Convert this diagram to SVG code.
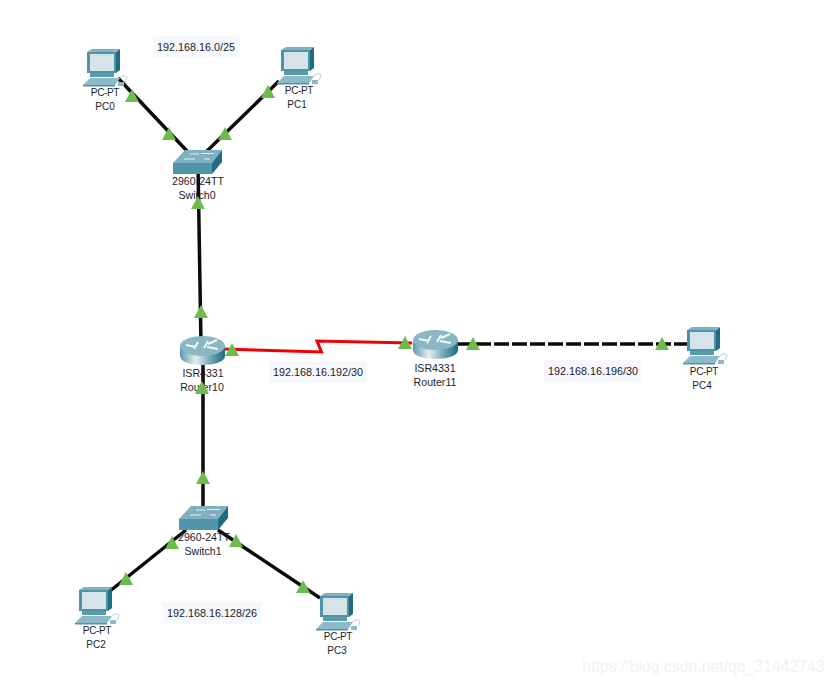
<svg xmlns="http://www.w3.org/2000/svg" xmlns:xlink="http://www.w3.org/1999/xlink" width="834" height="685" viewBox="0 0 834 685">
<style>
text{font-family:"Liberation Sans",Arial,sans-serif;font-size:10.600px;fill:#1c1c2a;text-anchor:middle}
.pt{font-size:10px;letter-spacing:-.35px}
.nm{font-size:10px}
.ip{font-size:10.800px}
.bg{fill:#f7f8fe}
.cable{fill:none;stroke:#0a0a0a;stroke-width:3.500}
.tri{fill:#6cbb4c}
</style>
<defs>
<linearGradient id="rt" x1="0" x2="1" y1="0" y2="0"><stop offset="0" stop-color="#5f98a8"/><stop offset=".35" stop-color="#e4eef1"/><stop offset=".7" stop-color="#6ea3b2"/><stop offset="1" stop-color="#1d6a80"/></linearGradient>
<polygon id="t" class="tri" points="0,-7 7,6 -7,6"/>
<g id="pc">
<polygon points="0,2 28,2 33,-1 5,-1" fill="#7fb0c0"/>
<rect x="0" y="2" width="29" height="21" fill="#4e93a8"/>
<polygon points="29,2 33,-1 33,20 29,23" fill="#1f6b82"/>
<rect x="3" y="4" width="24" height="17" fill="#d6e4ea"/>
<rect x="3" y="23" width="24" height="4" fill="#5a9aae"/>
<polygon points="-4,35 3,28 33,28 28,35" fill="#8dbac8"/>
<rect x="-4" y="35" width="32" height="1.500" fill="#4e93a8"/>
<rect x="31" y="32" width="6" height="4" fill="#8dbac8"/>
<path d="M32,29 C34,25 40,25 40,28 L38,32" fill="none" stroke="#b8ccd4"/>
</g>
<g id="sw">
<polygon points="0,13 12,0 49,0 39,13" fill="#80b0c0"/>
<polygon points="39,13 49,0 49,12 39,24" fill="#1f6b82"/>
<rect x="0" y="13" width="39" height="11" fill="#5095aa"/>
<path d="M11,9 H22 M17,4 H26 M28,3.500 H41 M31,9 H37" stroke="#e8f0f3" fill="none"/>
</g>
<g id="rtr">
<path d="M0,10 V20 C0,32 45,32 45,20 V10 Z" fill="url(#rt)"/>
<ellipse cx="22.500" cy="10" rx="22.500" ry="10" fill="#8bb6c4"/>
<path d="M6,9 L16,11 M18,6 L14,13 M28,5 L24,12 M27,11 L38,13 M28,8 L37,4" stroke="#f2f7f8" stroke-width="2" fill="none"/>
</g>
</defs>
<rect width="834" height="685" fill="#fff"/>
<g id="connectors">
<path class="cable" d="M118,78 L187,151"/>
<path class="cable" d="M279,81 L207,151"/>
<path class="cable" d="M198,165 L201,345"/>
<path class="cable" d="M203,352 V515"/>
<path class="cable" d="M186,530 L110,591"/>
<path class="cable" d="M218,530 L320,598"/>
<path class="cable" d="M458,344 H688" stroke-dasharray="15 3"/>
<path d="M222,349 L321.500,352 L317,341 L412,343" fill="none" stroke="#f00000" stroke-width="3"/>
</g>
<g id="PC0"><use xlink:href="#pc" href="#pc" x="87" y="50"/><text class="pt" x="105" y="96">PC-PT</text><text class="nm" x="105" y="110">PC0</text></g>
<g id="PC1"><use xlink:href="#pc" href="#pc" x="281" y="48"/><text class="pt" x="299" y="94">PC-PT</text><text class="nm" x="297" y="108">PC1</text></g>
<g id="PC2"><use xlink:href="#pc" href="#pc" x="79" y="588"/><text class="pt" x="97" y="634">PC-PT</text><text class="nm" x="96" y="648">PC2</text></g>
<g id="PC3"><use xlink:href="#pc" href="#pc" x="320" y="594"/><text class="pt" x="338" y="640">PC-PT</text><text class="nm" x="337" y="654">PC3</text></g>
<g id="PC4"><use xlink:href="#pc" href="#pc" x="687" y="328"/><text class="pt" x="704" y="375">PC-PT</text><text class="nm" x="702" y="389">PC4</text></g>
<g id="Switch0"><use xlink:href="#sw" href="#sw" x="173" y="150"/><text x="198" y="185">2960-24TT</text><text x="197" y="199">Switch0</text></g>
<g id="Switch1"><use xlink:href="#sw" href="#sw" x="179" y="506"/><text x="204" y="541">2960-24TT</text><text x="203" y="555">Switch1</text></g>
<g id="Router10"><use xlink:href="#rtr" href="#rtr" x="180" y="336"/><text x="203" y="377">ISR4331</text><text x="202" y="391">Router10</text></g>
<g id="Router11"><use xlink:href="#rtr" href="#rtr" x="413" y="330"/><text x="435" y="372">ISR4331</text><text x="435" y="386">Router11</text></g>
<g id="markers">
<use xlink:href="#t" href="#t" x="132" y="96"/>
<use xlink:href="#t" href="#t" x="169" y="134"/>
<use xlink:href="#t" href="#t" x="225" y="134"/>
<use xlink:href="#t" href="#t" x="268" y="92"/>
<use xlink:href="#t" href="#t" x="198" y="203"/>
<use xlink:href="#t" href="#t" x="201" y="312"/>
<use xlink:href="#t" href="#t" x="232" y="350"/>
<use xlink:href="#t" href="#t" x="405" y="343"/>
<use xlink:href="#t" href="#t" x="473" y="344"/>
<use xlink:href="#t" href="#t" x="662" y="344"/>
<use xlink:href="#t" href="#t" x="202" y="388"/>
<use xlink:href="#t" href="#t" x="203" y="478"/>
<use xlink:href="#t" href="#t" x="172" y="543"/>
<use xlink:href="#t" href="#t" x="236" y="541"/>
<use xlink:href="#t" href="#t" x="126" y="579"/>
<use xlink:href="#t" href="#t" x="303" y="587"/>
</g>
<g id="labels">
<rect class="bg" x="153" y="36" width="86" height="22"/><text class="ip" x="196" y="51">192.168.16.0/25</text>
<rect class="bg" x="269" y="361" width="98" height="22"/><text class="ip" x="318" y="376">192.168.16.192/30</text>
<rect class="bg" x="544" y="360" width="98" height="22"/><text class="ip" x="593" y="375">192.168.16.196/30</text>
<rect class="bg" x="163" y="602" width="98" height="22"/><text class="ip" x="212" y="617">192.168.16.128/26</text>
</g>
<text x="703.500" y="672" style="font-size:15.800px;fill:#f2f2f2">https://blog.csdn.net/qq_31442743</text>
</svg>
